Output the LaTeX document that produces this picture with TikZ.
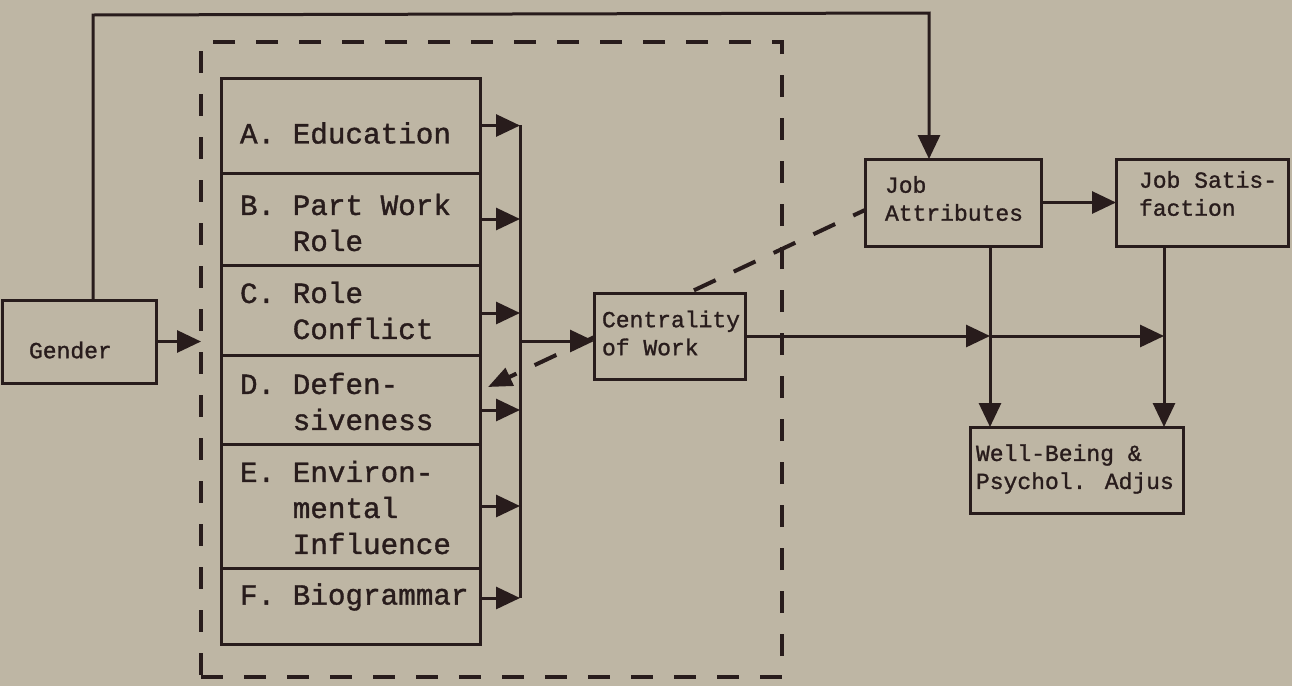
\documentclass[tikz,border=0pt]{standalone}
\usepackage{fontspec}
\usetikzlibrary{arrows.meta}
\newfontfamily\twfont[FakeBold=1.2]{Liberation Mono}
\newcommand\bigtw{\twfont\fontsize{29.3}{36}\selectfont}
\newcommand\smalltw{\twfont\fontsize{23}{28}\selectfont}
\newcommand\ind{\hphantom{A.\ }}
\definecolor{bg}{RGB}{190,182,164}
\definecolor{inkc}{RGB}{40,28,28}
\begin{document}
\begin{tikzpicture}[x=1pt,y=-1pt,
  every node/.style={inner sep=0pt, outer sep=0pt},
  box/.style={draw=inkc, line width=3pt, fill=bg, rectangle},
  stackbox/.style={box, minimum width=259pt},
  bigtext/.style={font=\bigtw, text=inkc, anchor=west, align=left},
  smalltext/.style={font=\smalltw, text=inkc, anchor=west, align=left},
  conn/.style={draw=inkc, line width=3pt},
  arr/.style={conn, -{Triangle[length=24pt,width=22pt]}},
  grpframe/.style={draw=inkc, line width=4.5pt, dash pattern=on 22pt off 21pt},
  dasharr/.style={draw=inkc, line width=4pt, dash pattern=on 24pt off 20pt, dash phase=11pt, -{Triangle[length=24pt,width=19pt]}},
]
% background / bounding box
\fill[bg] (0,0) rectangle (1292,686);
\useasboundingbox (0,0) rectangle (1292,686);

% dashed group frame
\node[grpframe, minimum width=581pt, minimum height=635pt] (grp) at (491.5,359.5) {};

% boxes on the right
\node[box, minimum width=176pt, minimum height=87pt] (jobattr) at (953,202.5) {};
\node[box, minimum width=172pt, minimum height=87pt] (jobsat) at (1202,202.5) {};
\node[box, minimum width=213pt, minimum height=86pt] (wb) at (1076.5,470) {};

% dashed arrow from Job Attributes to D (passes behind Centrality box)
\coordinate (dtip) at (488,387);
\draw[dasharr] (jobattr.west |- 0,210) -- (dtip);

% Gender
\node[box, minimum width=154pt, minimum height=83pt] (gender) at (79,341.5) {};
\node[smalltext] (gendert) at (29,350) {Gender};

% stack of boxes
\node[stackbox, minimum height=95pt] (A) at (350.5,125.5) {};
\node[stackbox, minimum height=92pt] (B) at (350.5,219) {};
\node[stackbox, minimum height=90pt] (C) at (350.5,310) {};
\node[stackbox, minimum height=89pt] (D) at (350.5,399.5) {};
\node[stackbox, minimum height=124pt] (E) at (350.5,506) {};
\node[stackbox, minimum height=76pt] (F) at (350.5,606) {};

\node[bigtext] (At) at (240,133) {A. Education};
\node[bigtext] (Bt) at (240,222.5) {B. Part Work\\\ind Role};
\node[bigtext] (Ct) at (240,310.5) {C. Role\\\ind Conflict};
\node[bigtext] (Dt) at (240,401.5) {D. Defen-\\\ind siveness};
\node[bigtext] (Et) at (240,507.5) {E. Environ-\\\ind mental\\\ind Influence};
\node[bigtext] (Ft) at (240,597) {F. Biogrammar};

% centrality box
\node[box, minimum width=151pt, minimum height=86pt] (cent) at (669.5,336) {};
\node[smalltext] (centt) at (602,333) {Centrality\\of Work};

% right texts
\node[smalltext] (jat) at (885,198.5) {Job\\Attributes};
\node[smalltext] (jst) at (1139,193.5) {Job Satis-\\faction};
\node[smalltext] (wbt) at (976,469) {Well-Being \&\\Psychol. Adjus};

% bus
\coordinate (busTop) at (520,125);
\coordinate (busBot) at (520,598);
\coordinate (busC) at (520,341);
\draw[conn] (busTop) -- (busBot);
\draw[arr] (A.east) -- (A.east -| busTop);
\draw[arr] (B.east) -- (B.east -| busTop);
\draw[arr] ([yshift=-3pt]C.east) -- ([yshift=-3pt]C.east -| busTop);
\draw[arr] ([yshift=-10.5pt]D.east) -- ([yshift=-10.5pt]D.east -| busTop);
\draw[arr] (E.east) -- (E.east -| busTop);
\draw[arr] ([yshift=8pt]F.east) -- ([yshift=8pt]F.east -| busTop);
\draw[arr] (busC) -- (cent.west |- busC);

% gender connectors
\draw[arr] (gender.east) -- (gender.east -| grp.west);
\draw[arr] (93,0 |- gender.north) -- (93,15) -- (929,13) -- (929,0 |- jobattr.north);

% right side connectors
\coordinate (jaV) at (990,0 |- jobattr.south);
\coordinate (jsV) at (1164,0 |- jobsat.south);
\draw[arr] (jobattr.east) -- (jobsat.west);
\draw[arr] (cent.east) -- (jaV |- cent.east);
\draw[arr] (jaV |- cent.east) -- (jsV |- cent.east);
\draw[arr] (jaV) -- (jaV |- wb.north);
\draw[arr] (jsV) -- (jsV |- wb.north);
\end{tikzpicture}
\end{document}
